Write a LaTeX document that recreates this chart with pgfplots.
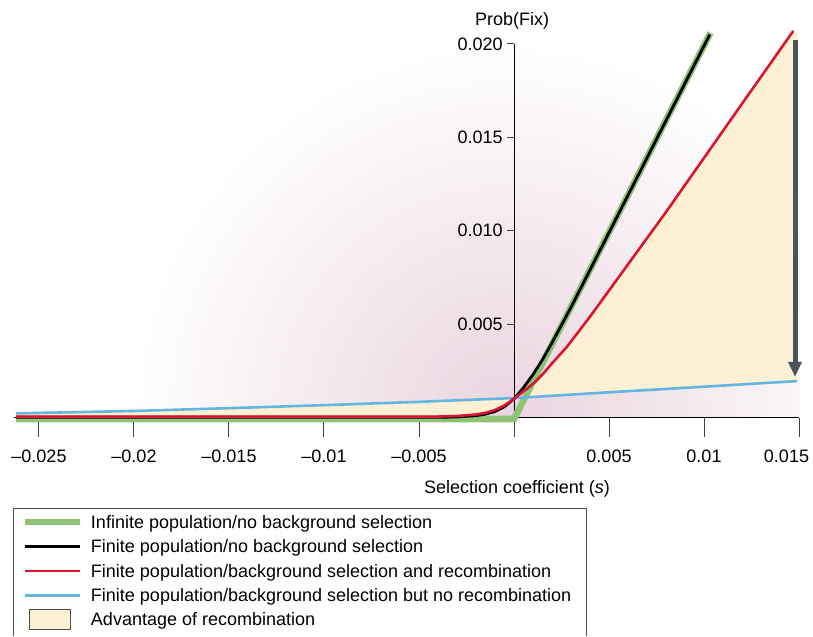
\documentclass[border=0pt]{standalone}
\usepackage{fontspec}
\setmainfont{Liberation Sans}
\usepackage{pgfplots}
\pgfplotsset{compat=1.18}
\usetikzlibrary{arrows.meta}
\definecolor{mauve}{RGB}{234,212,223}
\definecolor{cream}{RGB}{254,240,210}
\definecolor{ggreen}{RGB}{140,196,116}
\definecolor{rred}{RGB}{218,20,50}
\definecolor{bblue}{RGB}{100,182,226}
\definecolor{agray}{RGB}{75,84,92}
\pgfplotsset{
  linelegend/.style={legend image code/.code={\draw[##1] (0pt,0pt) -- (27.5pt,0pt);}},
  boxlegend/.style={legend image code/.code={\draw[##1, overlay] (2.5pt,-5pt) rectangle (23pt,5pt); \path[draw=none, fill=none] (0pt,0pt) -- (27.5pt,0pt);}},
}

\begin{document}
\begin{tikzpicture}[font=\fontsize{9}{10.8}\selectfont]
\path (-257pt,-109.25pt) rectangle (149.5pt,208.75pt);
\begin{scope}[overlay]
\clip (-249pt,0pt) rectangle (143pt,208.75pt);
\shade[inner color=mauve, outer color=white] (-4pt,0pt) circle (187pt);
\end{scope}
\begin{axis}[
  at={(0pt,0pt)}, anchor=origin,
  scale only axis, width=392.35pt, height=186.75pt,
  xmin=-0.0263, xmax=0.015, ymin=0, ymax=0.02,
  axis x line=bottom, axis y line=center,
  axis line style={-, line width=0.5pt, black},
  clip=false, scaled ticks=false,
  hide obscured x ticks=false,
  xtick={-0.025,-0.02,-0.015,-0.01,-0.005,0,0.005,0.01,0.015},
  xticklabels={\textendash0.025,\textendash0.02,\textendash0.015,\textendash0.01,\textendash0.005,,0.005,0.01,},
  ytick={0.005,0.01,0.015,0.02},
  yticklabels={0.005,0.010,0.015,0.020},
  tick align=outside, xtick pos=left,
  major tick length=9.5pt,
  ytick style={/pgfplots/major tick length=3.5pt},
  tick style={line width=0.5pt, black!75},
  xticklabel style={anchor=base, inner sep=0pt, yshift=-13pt},
  yticklabel style={anchor=east, inner sep=0pt, xshift=4pt},
  xlabel={Selection coefficient (\textit{s})},
  ylabel={Prob(Fix)},
  every axis x label/.style={at={(axis cs:0.000158,-0.00383)}, anchor=center, inner sep=0pt},
  every axis y label/.style={at={(axis cs:-0.000105,0.02123)}, anchor=center, inner sep=0pt},
  legend style={at={(axis cs:-0.025895,-0.005232)}, anchor=north west, draw=none, fill=none,
    inner sep=0pt, outer sep=0pt, row sep=5.4pt, column sep=4pt,
    nodes={inner sep=0pt, text height=6.5pt, text depth=0.3pt}},
  legend cell align=left,
]
% advantage of recombination: area between the red and the blue curve
\addplot[fill=cream, draw=none, forget plot] coordinates {
 (-0.0262,0.00004) (-0.005,0.00004) (-0.004,0.00005) (-0.003,0.00008) (-0.002,0.00016)
 (-0.0015,0.00025) (-0.001,0.0004) (-0.0005,0.00065) (0,0.001) (0.0005,0.0014) (0.001,0.0018)
 (0.0015,0.0023) (0.002,0.0029) (0.0028,0.0038) (0.004,0.0054) (0.006,0.0082) (0.008,0.0110)
 (0.010,0.0139) (0.012,0.0168) (0.0147,0.0207) (0.01493,0.0206)
 (0.0149,0.00195) (0.01,0.00165) (0.005,0.00135) (0,0.00104) (-0.005,0.00084)
 (-0.01,0.00066) (-0.015,0.0005) (-0.02,0.00035) (-0.0262,0.00022)};
% infinite population
\addplot[ggreen, line width=3.3pt, forget plot] coordinates {
 (-0.0262,-0.00008) (0,-0.00008) (0.01034,0.0206)};
% background selection, no recombination
\addplot[bblue, line width=1.3pt, forget plot] coordinates {
 (-0.0262,0.00022) (-0.02,0.00035) (-0.015,0.0005) (-0.01,0.00066) (-0.005,0.00084)
 (0,0.00104) (0.005,0.00135) (0.01,0.00165) (0.0149,0.00195)};
% finite population, no background selection
\addplot[black, line width=1.4pt, forget plot] coordinates {
 (-0.0262,0.00001) (-0.004,0.00001) (-0.003,0.00003) (-0.002,0.0001) (-0.0015,0.00018)
 (-0.001,0.00032) (-0.0005,0.00058) (0,0.001) (0.0005,0.0016) (0.001,0.0023) (0.0015,0.0031)
 (0.002,0.0040) (0.003,0.0059) (0.004,0.0079) (0.006,0.0119) (0.0103,0.0205)};
% background selection and recombination
\addplot[rred, line width=1.3pt, forget plot] coordinates {
 (-0.0262,0.00004) (-0.005,0.00004) (-0.004,0.00005) (-0.003,0.00008) (-0.002,0.00016)
 (-0.0015,0.00025) (-0.001,0.0004) (-0.0005,0.00065) (0,0.001) (0.0005,0.0014) (0.001,0.0018)
 (0.0015,0.0023) (0.002,0.0029) (0.0028,0.0038) (0.004,0.0054) (0.006,0.0082) (0.008,0.0110)
 (0.010,0.0139) (0.012,0.0168) (0.0147,0.0207)};
\draw[agray, line width=2.5pt, -{Triangle[width=6.5pt,length=7.5pt]}]
  (axis cs:0.01479,0.0202) -- (axis cs:0.01479,0.00218);
% last tick label sits a little to the left of its tick, as in the original
\node[anchor=base, inner sep=0pt] at (axis cs:0.014342,-0.00241) {0.015};
\addlegendimage{linelegend, ggreen, line width=3pt}
\addlegendentry{Infinite population/no background selection}
\addlegendimage{linelegend, black, line width=1.3pt}
\addlegendentry{Finite population/no background selection}
\addlegendimage{linelegend, rred, line width=1.3pt}
\addlegendentry{Finite population/background selection and recombination}
\addlegendimage{linelegend, bblue, line width=1.3pt}
\addlegendentry{Finite population/background selection but no recombination}
\addlegendimage{boxlegend, fill=cream, draw=black!70, line width=0.5pt}
\addlegendentry{Advantage of recombination}
\end{axis}
\draw[black!70, line width=0.5pt] (-250pt,-109.25pt) -- (-250pt,-45.25pt) -- (36pt,-45.25pt) -- (36pt,-109.25pt);
\end{tikzpicture}
\end{document}
